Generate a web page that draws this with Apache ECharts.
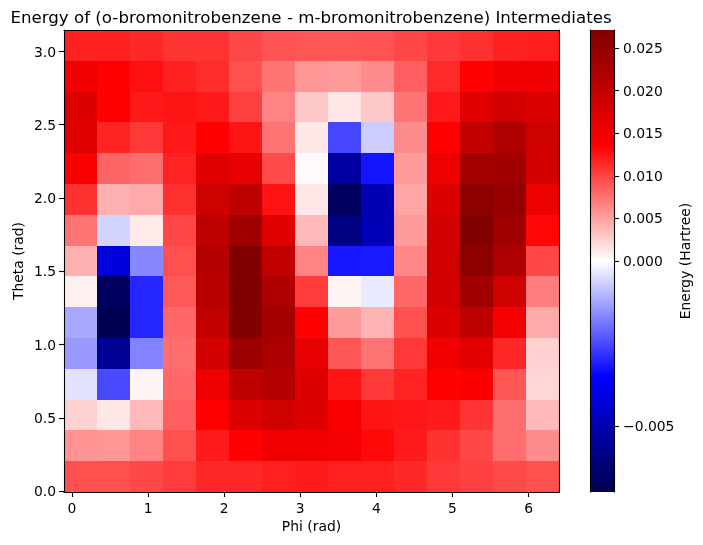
<!DOCTYPE html>
<html><head><meta charset="utf-8">
<style>html,body{margin:0;padding:0;background:#fff}#c{width:703px;height:545px}</style>
<script src="https://cdn.jsdelivr.net/npm/echarts@6/dist/echarts.min.js"></script>
</head><body><div id="c"></div>
<script>
const titleText = 'Energy of (o-bromonitrobenzene - m-bromonitrobenzene) Intermediates';
const phiTicks = [0,1,2,3,4,5,6];
const thetaTicks = [0,0.5,1,1.5,2,2.5,3];
const barTicks = [-0.005,0,0.005,0.01,0.015,0.02,0.025];
const phiRange = [-0.105,6.4];
const thetaRange = [-0.005,3.146];
const vmin = -0.00701, vmax = 0.0271;
// energy rows, bottom (theta low) to top
const row00=[.0093,.0093,.0098,.0104,.0114,.0115,.0119,.0121,.0119,.0119,.0114,.0106,.0101,.0096,.0093];
const row01=[.0058,.0056,.0066,.0093,.0121,.0135,.0151,.0151,.0146,.0131,.0121,.0109,.0098,.0077,.0061];
const row02=[.0024,.0013,.0037,.0085,.0135,.0172,.0188,.0172,.0140,.0125,.0124,.0121,.0108,.0077,.0037];
const row03=[-.0004,-.0025,.0006,.0080,.0156,.0204,.0215,.0172,.0125,.0106,.0117,.0135,.0140,.0090,.0022];
const row04=[-.0014,-.0056,-.0017,.0077,.0183,.0241,.0226,.0162,.0090,.0074,.0106,.0151,.0164,.0115,.0025];
const row05=[-.0012,-.00695,-.0030,.0080,.0199,.0268,.0231,.0135,.0053,.0040,.0093,.0172,.0204,.0146,.0045];
const row06=[.0008,-.00665,-.0030,.0088,.0210,.0270,.0220,.0104,.0006,-.0003,.0080,.0183,.0236,.0188,.0069];
const row07=[.0042,-.0042,-.00165,.0093,.0215,.0268,.0199,.0066,-.0032,-.00316,.0064,.0183,.0257,.0220,.0098];
const row08=[.0074,-.0006,.0011,.0098,.0204,.0236,.0167,.0037,-.00596,-.00488,.0053,.0183,.0268,.0236,.0132];
const row09=[.0109,.0042,.0045,.0110,.0188,.0204,.0126,.0013,-.00665,-.00497,.0048,.0172,.0257,.0247,.0156];
const row10=[.0140,.0082,.0077,.0117,.0167,.0162,.0096,.0003,-.00537,-.00323,.0053,.0156,.0231,.0236,.0183];
const row11=[.0167,.0117,.0106,.0122,.0135,.0125,.0074,.0012,-.00254,-.0007,.0061,.0135,.0199,.0220,.0188];
const row12=[.0172,.0135,.0122,.0125,.0122,.0101,.0066,.0029,.0014,.0029,.0074,.0122,.0167,.0183,.0172];
const row13=[.0151,.0135,.0127,.0118,.0112,.0093,.0074,.0056,.0053,.0061,.0085,.0113,.0135,.0151,.0151];
const row14=[.0118,.0118,.0114,.0108,.0108,.0098,.0092,.0090,.0090,.0092,.0098,.0105,.0110,.0118,.0120];
const rows=[row00,row01,row02,row03,row04,row05,row06,row07,row08,row09,row10,row11,row12,row13,row14];

const FONT='"DejaVu Sans"';
const norm=v=>v>=0?v/vmax:-v/vmin;           // -1..1
const unnorm=t=>t>=0?t*vmax:-t*vmin;
const stops=[[0,0,76.5],[0,0,255],[255,255,255],[255,0,0],[127.5,0,0]];
function seismic(t){ // t in -1..1
  const p=Math.max(0,Math.min(1,(t+1)/2))*4, i=Math.min(3,Math.floor(p)), f=p-i;
  const c=stops[i].map((a,k)=>Math.round(a+(stops[i+1][k]-a)*f));
  return `rgb(${c[0]},${c[1]},${c[2]})`;
}
const nx=rows[0].length, ny=rows.length;
const dx=(phiRange[1]-phiRange[0])/nx, dy=(thetaRange[1]-thetaRange[0])/ny;
const cells=[];
rows.forEach((r,j)=>r.forEach((v,i)=>cells.push([phiRange[0]+i*dx,thetaRange[0]+j*dy,phiRange[0]+(i+1)*dx,thetaRange[0]+(j+1)*dy,v])));

const axisCommon={
  axisLine:{show:true,onZero:false,lineStyle:{color:'#000',width:1.1}},
  axisTick:{show:true,length:5,lineStyle:{color:'#000',width:1.1}},
  axisLabel:{color:'#000',fontFamily:FONT,fontSize:13.9},
  splitLine:{show:false},
  nameTextStyle:{color:'#000',fontFamily:FONT,fontSize:13.9},
  nameMoveOverlap:false,
  z:10
};
const frame={show:true,axisLine:axisCommon.axisLine,axisTick:{show:false},axisLabel:{show:false},splitLine:{show:false},z:10};

const chart=echarts.init(document.getElementById('c'),null,{renderer:'canvas'});
chart.setOption({
  animation:false,
  backgroundColor:'#fff',
  title:{text:titleText,left:306,top:5,textAlign:'center',textStyle:{color:'#000',fontFamily:FONT,fontSize:16.67,fontWeight:'normal'}},
  grid:[
    {left:64,top:30,width:495,height:462,outerBoundsMode:'none'},
    {left:590,top:30,width:24,height:462,outerBoundsMode:'none'}
  ],
  xAxis:[
    Object.assign({},axisCommon,{type:'value',gridIndex:0,position:'bottom',min:phiRange[0],max:phiRange[1],name:'Phi (rad)',nameLocation:'middle',nameGap:28,
      axisTick:Object.assign({},axisCommon.axisTick,{customValues:phiTicks}),
      axisLabel:Object.assign({},axisCommon.axisLabel,{customValues:phiTicks,formatter:v=>String(v),margin:10})}),
    Object.assign({},frame,{type:'value',gridIndex:0,position:'top',min:phiRange[0],max:phiRange[1]}),
    {type:'value',gridIndex:1,min:0,max:1,show:false}
  ],
  yAxis:[
    Object.assign({},axisCommon,{type:'value',gridIndex:0,position:'left',min:thetaRange[0],max:thetaRange[1],name:'Theta (rad)',nameLocation:'middle',nameGap:38,nameRotate:90,
      axisTick:Object.assign({},axisCommon.axisTick,{customValues:thetaTicks}),
      axisLabel:Object.assign({},axisCommon.axisLabel,{customValues:thetaTicks,formatter:v=>v.toFixed(1),margin:8,verticalAlign:'top',lineHeight:3})}),
    Object.assign({},frame,{type:'value',gridIndex:0,position:'right',min:thetaRange[0],max:thetaRange[1]}),
    Object.assign({},axisCommon,{type:'value',gridIndex:1,position:'right',min:-1,max:1,name:'Energy (Hartree)',nameLocation:'middle',nameGap:65,nameRotate:90,
      axisTick:Object.assign({},axisCommon.axisTick,{customValues:barTicks.map(norm)}),
      axisLabel:Object.assign({},axisCommon.axisLabel,{customValues:barTicks.map(norm),margin:9,verticalAlign:'top',lineHeight:3,
        formatter:t=>{const v=unnorm(t);return (Math.abs(v)<1e-9?'0.000':v.toFixed(3)).replace('-','\u2212');}})}),
    Object.assign({},frame,{type:'value',gridIndex:1,position:'left',min:-1,max:1})
  ],
  series:[
    {type:'custom',xAxisIndex:0,yAxisIndex:0,coordinateSystem:'cartesian2d',data:cells,z:2,silent:true,
      encode:{x:[0,2],y:[1,3]},
      renderItem:(p,api)=>{
        const a=api.coord([api.value(0),api.value(1)]),b=api.coord([api.value(2),api.value(3)]);
        const x=Math.round(a[0]),x2=Math.round(b[0]),y=Math.round(b[1]),y2=Math.round(a[1]);
        return {type:'rect',shape:{x,y,width:x2-x,height:y2-y},style:{fill:seismic(norm(api.value(4)))}};
      }},
    {type:'custom',xAxisIndex:2,yAxisIndex:2,coordinateSystem:'cartesian2d',data:[[0,-1,1,1]],z:2,silent:true,
      encode:{x:[0,2],y:[1,3]},
      renderItem:(p,api)=>{
        const a=api.coord([api.value(0),api.value(1)]),b=api.coord([api.value(2),api.value(3)]);
        return {type:'rect',shape:{x:a[0],y:b[1],width:b[0]-a[0],height:a[1]-b[1]},
          style:{fill:{type:'linear',x:0,y:1,x2:0,y2:0,colorStops:stops.map((c,i)=>({offset:i/4,color:`rgb(${c[0]},${c[1]},${c[2]})`}))}}};
      }}
  ]
});
</script></body></html>
